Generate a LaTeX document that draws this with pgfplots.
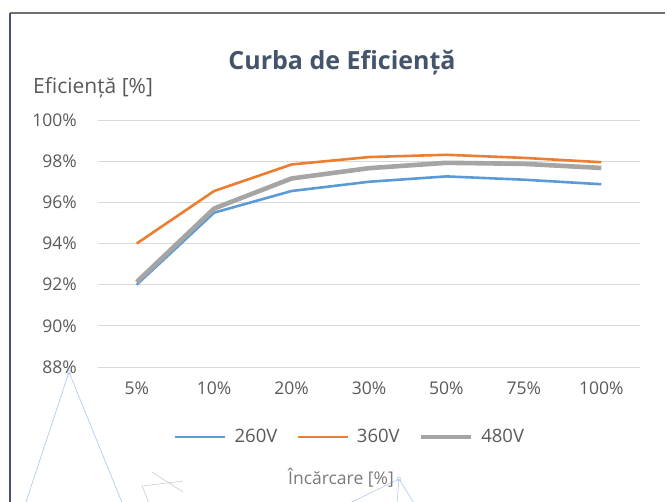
\documentclass[border=0pt]{standalone}
\usepackage{pgfplots}
\pgfplotsset{compat=1.18}
\usepackage{fontspec}
\setmainfont{Open Sans}
\definecolor{ser1}{HTML}{5B9BD5}
\definecolor{ser2}{HTML}{ED7D31}
\definecolor{ser3}{HTML}{A5A5A5}
\definecolor{txt}{HTML}{595959}
\definecolor{ttl}{HTML}{44546A}
\definecolor{grd}{HTML}{D9D9D9}
\definecolor{art}{HTML}{B4CBEA}
\begin{document}
\begin{tikzpicture}
\path[use as bounding box] (0,0) rectangle (667pt,-501pt);
\begin{scope}
\clip (0,0) rectangle (667pt,-501pt);
% frame
\draw[color=black!40!gray!80, line width=1.4pt] (10pt,-13pt) -- (665pt,-13pt);
\draw[color=ttl, line width=1.2pt] (10pt,-13pt) -- (10pt,-505pt);
% stray decorations
\draw[art, line width=0.7pt] (25pt,-505pt) -- (69pt,-372pt) -- (123pt,-505pt);
\draw[art, line width=0.6pt] (69pt,-372pt) circle (2pt);
\draw[art, line width=0.6pt] (350pt,-503pt) -- (399pt,-479pt) -- (397pt,-503pt);
\draw[art, line width=0.6pt] (399pt,-479pt) -- (414pt,-503pt);
\draw[art, line width=0.6pt] (399pt,-479pt) circle (2pt);
\draw[gray!40, line width=0.6pt] (152pt,-472pt) -- (183pt,-492pt);
\draw[gray!40, line width=0.6pt] (142pt,-486pt) -- (183pt,-481pt);
\draw[gray!40, line width=0.6pt] (142pt,-486pt) -- (149pt,-503pt);
\end{scope}
\begin{axis}[
  at={(98pt,-367pt)}, anchor=south west,
  scale only axis, width=542pt, height=247pt,
  xmin=-0.5, xmax=6.5, ymin=88, ymax=100,
  axis line style={draw=none},
  major tick length=0pt,
  xtick={0,...,6},
  xticklabels={5\%,10\%,20\%,30\%,50\%,75\%,100\%},
  ytick={88,90,...,100},
  yticklabel={\pgfmathprintnumber{\tick}\%},
  /pgf/number format/assume math mode=true,
  ymajorgrids, grid style={grd, line width=1pt},
  tick label style={font=\fontsize{17.5}{20}\selectfont, text=txt},
  yticklabel style={inner sep=0pt, xshift=-21pt},
  xticklabel style={inner sep=0pt, yshift=-15pt},
  legend columns=3,
  legend style={at={(0.465,-0.283)}, anchor=center, draw=none, fill=none,
    font=\fontsize{18.5}{22}\selectfont, text=txt,
    /tikz/every even column/.append style={column sep=17pt}},
  legend image code/.code={\draw[#1] (0pt,0pt) -- (50pt,0pt); \path (56pt,0pt);},
  clip=false,
]
\addplot[ser1, line width=2.6pt] coordinates {(0,92.0) (1,95.5) (2,96.55) (3,97.0) (4,97.26) (5,97.1) (6,96.88)};
\addlegendentry{260V}
\addplot[ser2, line width=2.6pt] coordinates {(0,94.0) (1,96.55) (2,97.84) (3,98.2) (4,98.31) (5,98.16) (6,97.95)};
\addlegendentry{360V}
\addplot[ser3, line width=4.6pt] coordinates {(0,92.13) (1,95.7) (2,97.16) (3,97.66) (4,97.92) (5,97.87) (6,97.67)};
\addlegendentry{480V}
\end{axis}
\node[font=\bfseries\fontsize{25}{30}\selectfont, text=ttl] at (342pt,-63pt) {Curba de Eficiență};
\node[font=\fontsize{21}{25}\selectfont, text=txt, anchor=west, inner sep=0pt] at (33pt,-88pt) {Eficiență [\%]};
\node[font=\fontsize{17.5}{20}\selectfont, text=txt!80] at (341pt,-478pt) {Încărcare [\%]};
\end{tikzpicture}
\end{document}
